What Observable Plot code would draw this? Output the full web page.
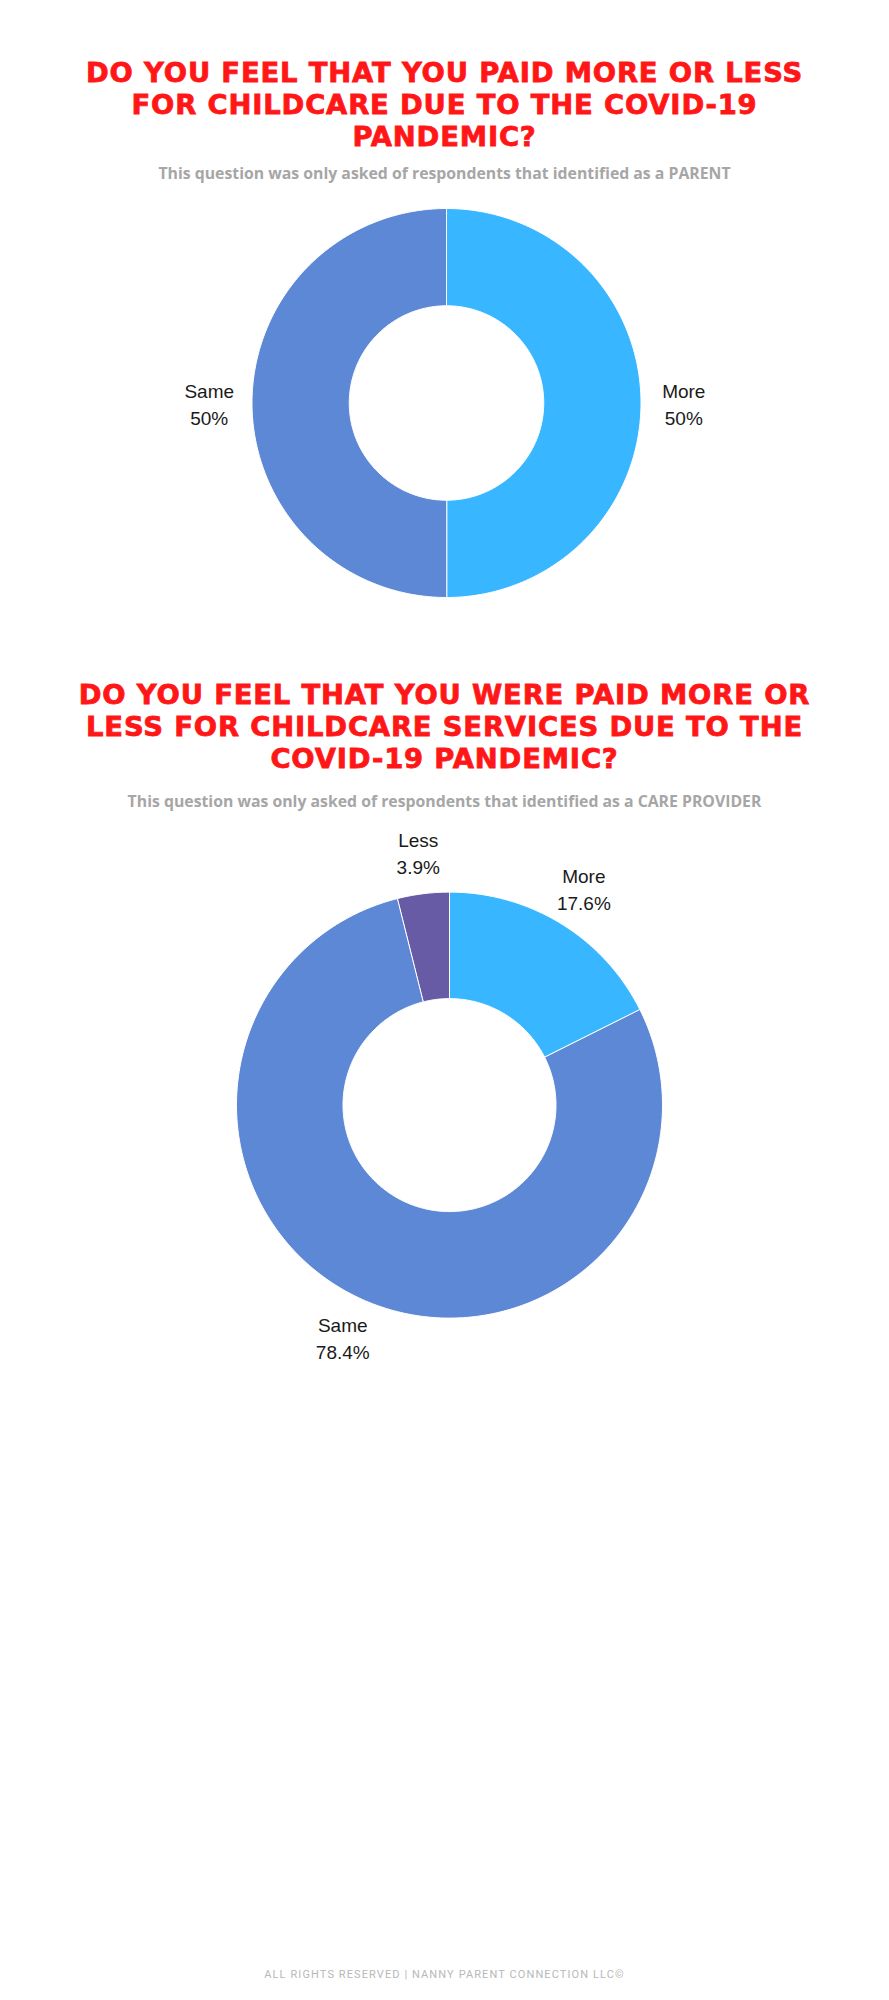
<!DOCTYPE html>
<html>
<head>
<meta charset="utf-8">
<script src="https://cdn.jsdelivr.net/npm/d3@7"></script>
<script src="https://cdn.jsdelivr.net/npm/@observablehq/plot@0.6"></script>
<style>
  html, body { margin: 0; padding: 0; background: #fff; }
  body { width: 889px; height: 2000px; position: relative; overflow: hidden; }
  .title { position: absolute; left: 0; width: 889px; text-align: center; color: #ff1616;
           font-family: "DejaVu Sans", sans-serif; font-weight: 700; font-size: 27.4px;
           letter-spacing: 0.85px; line-height: 32px; text-transform: uppercase;
           -webkit-text-stroke: 0.8px #ff1616; }
  .sub { position: absolute; left: 0; width: 889px; text-align: center; color: #a6a6a6;
         font-family: "Open Sans", sans-serif; font-weight: 700; font-size: 15.8px; }
  .chart { position: absolute; left: 0; }
  .footer { position: absolute; left: 0; width: 889px; text-align: center; color: #b8b8b8;
            font-family: Roboto, sans-serif; font-weight: 400; font-size: 11px; letter-spacing: 1.1px; }
</style>
</head>
<body>
<div class="title" id="t1" style="top:56.5px">Do you feel that you paid more or less<br>for childcare due to the COVID-19<br>pandemic?</div>
<div class="sub" id="s1" style="top:162px">This question was only asked of respondents that identified as a PARENT</div>
<div class="chart" id="c1" style="top:190px"></div>
<div class="title" id="t2" style="top:679px">Do you feel that you were paid more or<br>less for childcare services due to the<br>COVID-19 pandemic?</div>
<div class="sub" id="s2" style="top:790px">This question was only asked of respondents that identified as a CARE PROVIDER</div>
<div class="chart" id="c2" style="top:820px"></div>
<div class="footer" style="top:1968px">ALL RIGHTS RESERVED | NANNY PARENT CONNECTION LLC©</div>
<script>
// ---- data ----
const parentCategories = ["More", "Same"];
const parentValues = [50, 50];
const parentLabels = ["50%", "50%"];

const providerCategories = ["More", "Same", "Less"];
const providerValues = [17.6, 78.4, 3.9];
const providerLabels = ["17.6%", "78.4%", "3.9%"];

const colorDomain = ["More", "Same", "Less"];
const colorRange = ["#38b6ff", "#5d88d6", "#685ba6"];

function donut(el, cats, vals, labels, opt) {
  const total = d3.sum(vals);
  const pts = [];
  const labs = [];
  let cum = 0;
  cats.forEach((c, i) => {
    const a0 = cum / total * 2 * Math.PI;
    cum += vals[i];
    const a1 = cum / total * 2 * Math.PI;
    const n = Math.max(4, Math.ceil((a1 - a0) / (2 * Math.PI) * 360));
    for (let k = 0; k <= n; k++) {
      const a = a0 + (a1 - a0) * k / n;
      pts.push({key: c, x: Math.sin(a), y: Math.cos(a)});
    }
    for (let k = n; k >= 0; k--) {
      const a = a0 + (a1 - a0) * k / n;
      pts.push({key: c, x: opt.inner * Math.sin(a), y: opt.inner * Math.cos(a)});
    }
    const am = (a0 + a1) / 2;
    labs.push({x: opt.lr * Math.sin(am), y: opt.lr * Math.cos(am), text: c + "\n" + labels[i]});
  });
  const R = opt.R;
  const plot = Plot.plot({
    width: 889, height: opt.h, margin: 0,
    x: {domain: [-opt.cx / R, (889 - opt.cx) / R], axis: null},
    y: {domain: [-(opt.h - opt.cy) / R, opt.cy / R], axis: null},
    color: {domain: colorDomain, range: colorRange},
    marks: [
      Plot.line(pts, {x: "x", y: "y", z: "key", fill: "key", stroke: "white", strokeWidth: 1, curve: "linear-closed"}),
      Plot.text(labs, {x: "x", y: "y", text: "text", fontSize: 19, lineHeight: 1.42,
        fill: "#1a1a1a", fontFamily: "'Liberation Sans', Arial, sans-serif"})
    ]
  });
  document.getElementById(el).appendChild(plot);
}

donut("c1", parentCategories, parentValues, parentLabels, {h: 430, cx: 446, cy: 212.5, R: 194.5, inner: 0.5, lr: 1.22});
donut("c2", providerCategories, providerValues, providerLabels, {h: 560, cx: 449, cy: 284.6, R: 213, inner: 0.5, lr: 1.2});
</script>
</body>
</html>
